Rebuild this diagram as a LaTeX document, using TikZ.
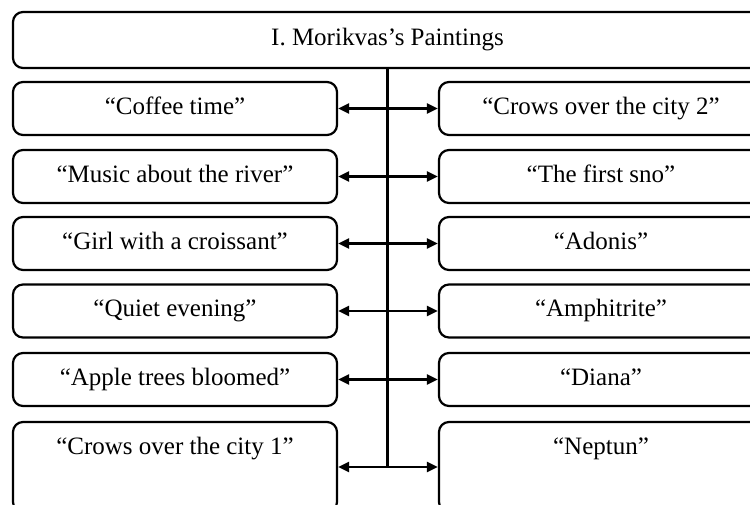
\documentclass[tikz,border=0pt]{standalone}
\usepackage{fontspec}
\setmainfont{Liberation Serif}
\usetikzlibrary{arrows.meta}
\begin{document}
\begin{tikzpicture}[x=1pt,y=-1pt,
  every node/.style={font=\fontsize{25}{30}\selectfont, text height=17pt, text depth=6pt},
  box/.style={draw, line width=2.2pt, rounded corners=10pt, inner sep=0pt,
    minimum width=324pt, minimum height=53pt},
  topbox/.style={box, minimum width=749pt, minimum height=56pt},
  tallbox/.style={box, minimum height=90pt},
  link/.style={line width=2.2pt, {Triangle[length=11pt,width=10pt]}-{Triangle[length=11pt,width=10pt]}},
  trunk/.style={line width=2.2pt}]
\useasboundingbox (0,0) rectangle (750,504);
\clip (0,0) rectangle (750,504);
\node[topbox] (top) at (387.5,40) {I. Morikvas’s Paintings};
\node[box] (L1) at (175,108.5) {“Coffee time”};
\node[box] (R1) at (601,108.5) {“Crows over the city 2”};
\node[box] (L2) at (175,176.5) {“Music about the river”};
\node[box] (R2) at (601,176.5) {“The first sno”};
\node[box] (L3) at (175,243.5) {“Girl with a croissant”};
\node[box] (R3) at (601,243.5) {“Adonis”};
\node[box] (L4) at (175,311) {“Quiet evening”};
\node[box] (R4) at (601,311) {“Amphitrite”};
\node[box] (L5) at (175,379.5) {“Apple trees bloomed”};
\node[box] (R5) at (601,379.5) {“Diana”};
\node[tallbox] (L6) at (175,467) {};
\node[tallbox] (R6) at (601,467) {};
\node (L6t) at (175,449) {“Crows over the city 1”};
\node (R6t) at (601,449) {“Neptun”};
\coordinate (vend) at (top.south |- L6.east);
\draw[trunk] (top.south) -- (vend);
\foreach \i in {1,...,6} {
  \draw[link] (L\i.east) -- (R\i.west);
}
\end{tikzpicture}
\end{document}
